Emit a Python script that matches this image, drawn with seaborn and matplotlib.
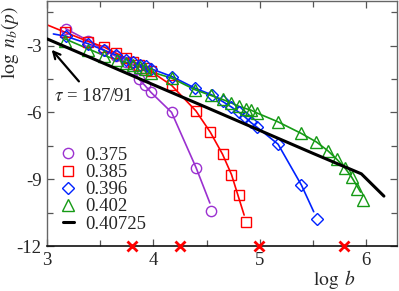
import numpy as np
import pandas as pd
import matplotlib
matplotlib.use("Agg")
import matplotlib.pyplot as plt
from matplotlib.lines import Line2D
import seaborn as sns

# ---------------- data ----------------
labels = ["0.375", "0.385", "0.396", "0.402", "0.40725"]

x375 = [3.174, 3.388, 3.538, 3.650, 3.740, 3.808, 3.866, 3.920, 3.977, 4.171, 4.401, 4.537]
y375 = [-2.24, -2.78, -3.20, -3.49, -3.76, -4.07, -4.52, -4.79, -5.10, -6.00, -8.48, -10.43]
lx375 = [3.174, 3.388, 3.538, 3.650, 3.740, 3.808, 3.866, 3.920, 3.977, 4.171, 4.401, 4.531]
ly375 = [-2.24, -2.78, -3.20, -3.49, -3.76, -4.07, -4.52, -4.79, -5.10, -6.00, -8.48, -10.07]

x385 = [3.169, 3.388, 3.538, 3.648, 3.739, 3.805, 3.867, 3.930, 3.977, 4.171, 4.399, 4.535, 4.650, 4.734, 4.803, 4.869]
y385 = [-2.40, -2.82, -3.07, -3.34, -3.55, -3.72, -3.86, -4.02, -4.16, -4.79, -5.93, -6.89, -7.88, -8.79, -9.69, -10.93]
lx385 = [3.00, 3.169, 3.388, 3.538, 3.648, 3.739, 3.805, 3.867, 3.930, 3.977, 4.171, 4.399, 4.535, 4.650, 4.734, 4.853]
ly385 = [-2.07, -2.40, -2.82, -3.07, -3.34, -3.55, -3.72, -3.86, -4.02, -4.16, -4.79, -5.93, -6.89, -7.88, -8.79, -10.61]

x396 = [3.174, 3.388, 3.538, 3.650, 3.740, 3.808, 3.871, 3.928, 3.977, 4.174, 4.390, 4.547, 4.650,
        4.734, 4.805, 4.864, 4.915, 4.975, 5.172, 5.392, 5.535]
y396 = [-2.58, -2.92, -3.22, -3.42, -3.63, -3.75, -3.86, -3.94, -4.04, -4.39, -4.91, -5.21, -5.51,
        -5.76, -6.00, -6.22, -6.45, -6.67, -7.43, -9.27, -10.77]
lx396 = [3.06, 3.174, 3.388, 3.538, 3.650, 3.740, 3.808, 3.871, 3.928, 3.977, 4.174, 4.390, 4.547, 4.650,
         4.734, 4.805, 4.864, 4.915, 4.975, 5.172, 5.392, 5.507]
ly396 = [-2.48, -2.58, -2.92, -3.22, -3.42, -3.63, -3.75, -3.86, -3.94, -4.04, -4.39, -4.91, -5.21, -5.51,
         -5.76, -6.00, -6.22, -6.45, -6.67, -7.43, -9.27, -10.46]

x402 = [3.169, 3.388, 3.538, 3.655, 3.742, 3.808, 3.871, 3.925, 3.977, 4.171, 4.390, 4.540, 4.650, 4.734,
        4.805, 4.869, 4.922, 4.975, 5.169, 5.388, 5.533, 5.639, 5.723, 5.798, 5.864, 5.911, 5.970]
y402 = [-2.78, -3.22, -3.49, -3.67, -3.77, -3.89, -3.97, -4.07, -4.22, -4.46, -4.98, -5.24, -5.42, -5.58,
        -5.73, -5.83, -5.91, -6.03, -6.42, -6.94, -7.33, -7.72, -8.10, -8.48, -8.91, -9.43, -9.94]
lx402 = [3.169, 3.388, 3.538, 3.655, 3.742, 3.808, 3.871, 3.925, 3.977, 4.171, 4.390, 4.540, 4.650, 4.734,
         4.805, 4.869, 4.922, 4.975, 5.169, 5.388, 5.533, 5.639, 5.723, 5.798, 5.864, 5.948]
ly402 = [-2.70, -3.15, -3.45, -3.63, -3.75, -3.87, -3.96, -4.06, -4.18, -4.46, -4.98, -5.24, -5.42, -5.58,
         -5.73, -5.83, -5.91, -6.03, -6.42, -6.94, -7.33, -7.72, -8.10, -8.48, -8.91, -9.58]

x40725 = [3.0, 3.5, 4.0, 4.5, 5.0, 5.5, 5.955, 6.167]
y40725 = [-2.70, -3.73, -4.76, -5.78, -6.81, -7.84, -8.76, -9.76]

cross_x = [3.795, 4.249, 4.993, 5.789]
cross_y = [-12, -12, -12, -12]

tau_label = r"$\tau$ = 187/91"

xticks = [3, 4, 5, 6]
yticks = [-12, -9, -6, -3]

# ---------------- style ----------------
sns.set_style("ticks")
plt.rcParams["font.family"] = ["Liberation Serif", "DejaVu Serif"]
plt.rcParams["mathtext.fontset"] = "stix"

colors = ["#9b30d0", "#ff0000", "#0022ff", "#159a15", "#000000"]
markers = ["o", "s", "D", "^"]
msizes = [7.4, 7.2, 5.8, 8.2]

fig = plt.figure(figsize=(3.99, 2.91), dpi=100)
ax = fig.add_axes([0.1178, 0.1546, 0.8772, 0.842])

series = [(x375, y375, lx375, ly375), (x385, y385, lx385, ly385),
          (x396, y396, lx396, ly396), (x402, y402, lx402, ly402)]

for i, (mx, my, lx, ly) in enumerate(series):
    dl = pd.DataFrame({"x": lx, "y": ly})
    sns.lineplot(data=dl, x="x", y="y", ax=ax, color=colors[i], lw=1.2,
                 sort=False, estimator=None, zorder=2)
    dm = pd.DataFrame({"x": mx, "y": my})
    ax.plot(dm["x"], dm["y"], ls="none", marker=markers[i], ms=msizes[i],
            mfc="none", mec=colors[i], mew=1.0, zorder=3)

db = pd.DataFrame({"x": x40725, "y": y40725})
sns.lineplot(data=db, x="x", y="y", ax=ax, color="black", lw=2.2,
             sort=False, estimator=None, zorder=4)

ax.plot(cross_x, cross_y, ls="none", marker="x", ms=7, mew=2.0,
        color="#ff0000", clip_on=False, zorder=5)

ax.annotate("", xy=(3.044, -3.19), xytext=(3.30, -4.61),
            arrowprops=dict(arrowstyle="->,head_length=0.5,head_width=0.25",
                            color="black", lw=1.6, shrinkA=0, shrinkB=0))
ax.text(3.066, -5.27, tau_label, fontsize=13.5, ha="left", va="center")

ax.set_xlim(3, 6.29)
ax.set_ylim(-12, -1)
ax.set_xticks(xticks)
ax.set_yticks(yticks)
ax.set_xticklabels([str(v) for v in xticks])
ax.set_yticklabels([str(v) for v in yticks])
ax.set_xticks([3.5, 4.5, 5.5], minor=True)
ax.set_yticks([-10.5, -7.5, -4.5, -1.5], minor=True)
ax.tick_params(which="both", direction="in", top=True, right=True,
               labelsize=13.5, color="#555555")
ax.tick_params(which="major", length=5, width=0.9, pad=4)
ax.tick_params(which="minor", length=4, width=0.9)
for s in ["left", "top", "right"]:
    ax.spines[s].set_color("#666666")
    ax.spines[s].set_linewidth(1.0)
ax.spines["bottom"].set_color("#111111")
ax.spines["bottom"].set_linewidth(1.2)

ax.set_xlabel(r"$\log\ b$", fontsize=14)
ax.set_ylabel(r"$\log\ n_b(p)$", fontsize=14)
ax.xaxis.set_label_coords(0.823, -0.09)
ax.yaxis.set_label_coords(-0.075, 0.83)

handles = [Line2D([], [], ls="none", marker=markers[i], ms=msizes[i], mfc="none",
                  mec=colors[i], mew=1.0) for i in range(4)]
handles.append(Line2D([], [], color="black", lw=2.2))
ax.legend(handles, labels, loc="lower left", bbox_to_anchor=(0.045, 0.055),
          frameon=False, fontsize=13.5, handlelength=0.6, handletextpad=0.6,
          labelspacing=0.0, borderpad=0, borderaxespad=0)

fig.savefig("out.png", dpi=100)
